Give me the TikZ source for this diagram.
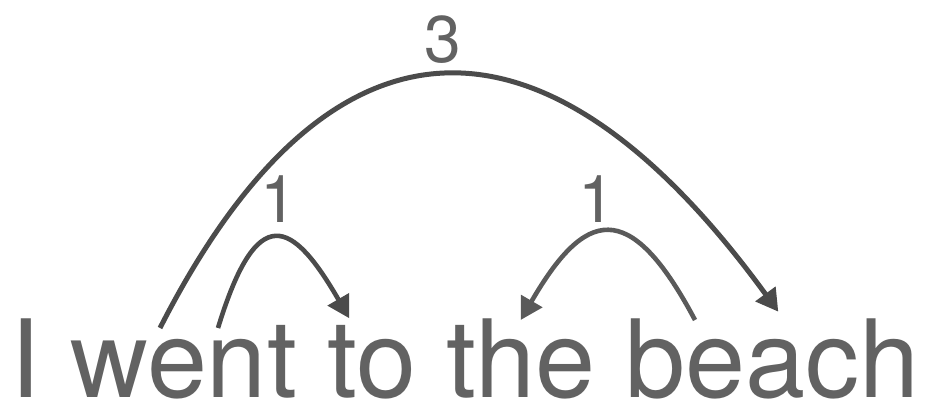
\documentclass[tikz,border=0pt]{standalone}
\usepackage{fontspec}
\setmainfont{TeX Gyre Heros}
\usetikzlibrary{arrows.meta,calc}
\definecolor{txtgray}{HTML}{626262}
\definecolor{arcgray}{HTML}{4B4B4B}
\definecolor{arcgraylight}{HTML}{5A5A5A}
\tikzset{
  word/.style={inner sep=0pt, outer sep=0pt, anchor=base west, text=txtgray, font=\fontsize{108}{108}\selectfont},
  weight/.style={inner sep=0pt, outer sep=0pt, anchor=base, text=txtgray, font=\fontsize{66}{66}\selectfont},
  dep/.style={draw=arcgray, line width=4.6pt, -{Triangle[length=22pt,width=24pt]}},
}
\begin{document}
\begin{tikzpicture}[x=1pt,y=1pt]
\useasboundingbox (0,0) rectangle (927,403);
% words
\node[word] (w1) at (10,5) {I};
\node[word] (w2) at ($(w1.base east)+(30,0)$) {went};
\node[word] (w3) at ($(w2.base east)+(30,0)$) {to};
\node[word] (w4) at ($(w3.base east)+(30,0)$) {the};
\node[word] (w5) at ($(w4.base east)+(30,0)$) {beach};
% arc end points
\coordinate (a3s) at (160,75);
\coordinate (a3e) at (778.3,91.3);
\coordinate (a1s) at (218,75);
\coordinate (a1e) at (349.3,84.7);
\coordinate (b1s) at (695,83);
\coordinate (b1e) at (520.7,83);
% arcs
\draw[dep, line width=5pt] (a3s) .. controls (331.5,411.5) and (547.9,407.6) .. (a3e);
\draw[dep] (a1s) .. controls (257.2,203.5) and (292.4,183) .. (a1e);
\draw[dep, draw=arcgraylight] (b1s) .. controls (628.8,207.6) and (584.5,193) .. (b1e);
% labels
\node[weight] (l3) at (443,340) {3};
\node[weight] (l1a) at (278.6,180) {1};
\node[weight] (l1b) at (596.6,180) {1};
\end{tikzpicture}
\end{document}
